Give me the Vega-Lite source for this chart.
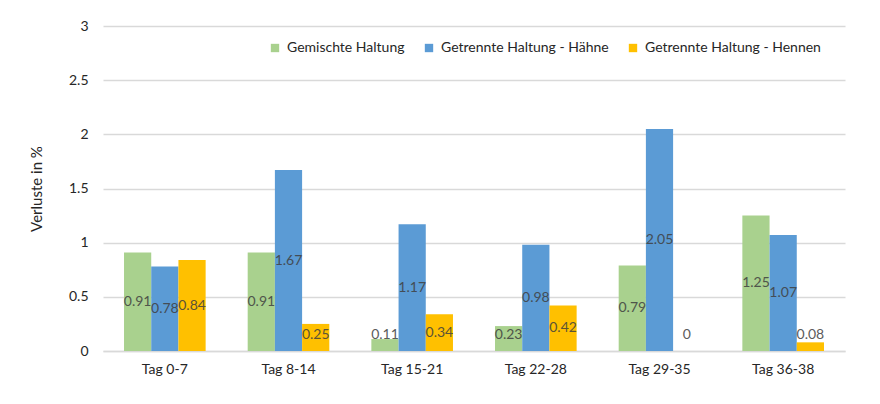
{
  "$schema": "https://vega.github.io/schema/vega-lite/v6.json",
  "autosize": "none",
  "width": 742,
  "height": 325,
  "padding": {"left": 103, "top": 26, "right": 35, "bottom": 53},
  "background": "white",
  "config": {
    "font": "Lato",
    "view": {"stroke": null}
  },
  "data": {
    "values": [
      {"tag": "Tag 0-7", "serie": "Gemischte Haltung", "value": 0.91},
      {"tag": "Tag 0-7", "serie": "Getrennte Haltung - Hähne", "value": 0.78},
      {"tag": "Tag 0-7", "serie": "Getrennte Haltung - Hennen", "value": 0.84},
      {"tag": "Tag 8-14", "serie": "Gemischte Haltung", "value": 0.91},
      {"tag": "Tag 8-14", "serie": "Getrennte Haltung - Hähne", "value": 1.67},
      {"tag": "Tag 8-14", "serie": "Getrennte Haltung - Hennen", "value": 0.25},
      {"tag": "Tag 15-21", "serie": "Gemischte Haltung", "value": 0.11},
      {"tag": "Tag 15-21", "serie": "Getrennte Haltung - Hähne", "value": 1.17},
      {"tag": "Tag 15-21", "serie": "Getrennte Haltung - Hennen", "value": 0.34},
      {"tag": "Tag 22-28", "serie": "Gemischte Haltung", "value": 0.23},
      {"tag": "Tag 22-28", "serie": "Getrennte Haltung - Hähne", "value": 0.98},
      {"tag": "Tag 22-28", "serie": "Getrennte Haltung - Hennen", "value": 0.42},
      {"tag": "Tag 29-35", "serie": "Gemischte Haltung", "value": 0.79},
      {"tag": "Tag 29-35", "serie": "Getrennte Haltung - Hähne", "value": 2.05},
      {"tag": "Tag 29-35", "serie": "Getrennte Haltung - Hennen", "value": 0},
      {"tag": "Tag 36-38", "serie": "Gemischte Haltung", "value": 1.25},
      {"tag": "Tag 36-38", "serie": "Getrennte Haltung - Hähne", "value": 1.07},
      {"tag": "Tag 36-38", "serie": "Getrennte Haltung - Hennen", "value": 0.08}
    ]
  },
  "encoding": {
    "x": {
      "field": "tag",
      "type": "nominal",
      "sort": null,
      "title": null,
      "scale": {"paddingInner": 0.34, "paddingOuter": 0.17},
      "axis": {
        "labelAngle": 0,
        "labelFontSize": 14,
        "labelColor": "#262626",
        "labelPadding": 11,
        "ticks": false,
        "domainColor": "#d9d9d9",
        "domainWidth": 1.5
      }
    },
    "xOffset": {
      "field": "serie",
      "type": "nominal",
      "sort": null,
      "scale": {"paddingInner": 0, "paddingOuter": 0}
    }
  },
  "layer": [
    {
      "mark": {"type": "bar"},
      "encoding": {
        "y": {
          "field": "value",
          "type": "quantitative",
          "title": "Verluste in %",
          "scale": {"domain": [0, 3]},
          "axis": {
            "values": [0, 0.5, 1, 1.5, 2, 2.5, 3],
            "format": "~g",
            "domain": false,
            "ticks": false,
            "gridColor": "#d9d9d9",
            "gridWidth": 1.3,
            "labelFontSize": 14,
            "labelColor": "#262626",
            "labelPadding": 15,
            "titleFontSize": 15,
            "titleFontWeight": "normal",
            "titleColor": "#262626",
            "titlePadding": 24
          }
        },
        "color": {
          "field": "serie",
          "type": "nominal",
          "sort": null,
          "title": null,
          "scale": {"range": ["#a9d18e", "#5b9bd5", "#ffc000"]},
          "legend": {
            "orient": "none",
            "direction": "horizontal",
            "legendX": 165,
            "legendY": 15,
            "symbolType": "square",
            "symbolSize": 70,
            "symbolStrokeWidth": 0,
            "labelFontSize": 14,
            "labelColor": "#262626",
            "labelOffset": 5,
            "columnPadding": 17,
            "labelLimit": 300
          }
        }
      }
    },
    {
      "transform": [
        {"calculate": "max(datum.value / 2, 0.15)", "as": "labelPos"}
      ],
      "mark": {"type": "text", "fontSize": 14, "color": "#404040", "opacity": 0.85, "baseline": "middle"},
      "encoding": {
        "y": {"field": "labelPos", "type": "quantitative"},
        "text": {"field": "value", "type": "quantitative", "format": "~g"}
      }
    }
  ]
}
